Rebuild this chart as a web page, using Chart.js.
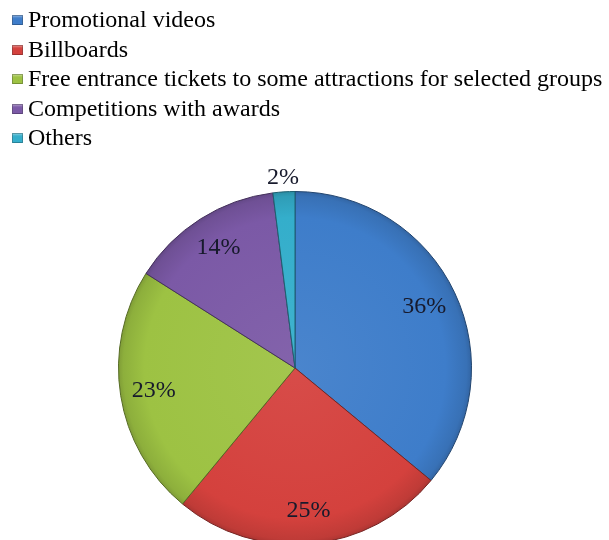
<!DOCTYPE html>
<html>
<head>
<meta charset="utf-8">
<script src="https://cdn.jsdelivr.net/npm/chart.js@4/dist/chart.umd.min.js"></script>
<style>
  body { margin: 0; background: #fff; overflow: hidden; }
  #wrap { position: relative; width: 609px; height: 540px; overflow: hidden; }
  #legend { position: absolute; left: 12px; top: 5px; z-index: 2;
    font-family: 'Liberation Serif', 'Times New Roman', serif; font-size: 24px; color: #000; }
  #legend div { height: 29.5px; line-height: 29.5px; white-space: nowrap; }
  #legend span { display: inline-block; width: 11px; height: 10px; margin-right: 5px;
    vertical-align: 2px; box-shadow: inset 0 0 0 1px rgba(0,0,0,0.25), inset 0 2px 2px rgba(255,255,255,0.35); }
  #pie { position: absolute; left: 0; top: 0; }
</style>
</head>
<body>
<div id="wrap">
  <div id="legend"></div>
  <canvas id="pie" width="609" height="560"></canvas>
</div>
<script>
var labels = ['Promotional videos', 'Billboards', 'Free entrance tickets to some attractions for selected groups', 'Competitions with awards', 'Others'];
var shares = [36, 25, 23, 14, 2];
var colors = ['#3e7dca', '#d4413d', '#9dc243', '#7b59a6', '#34aecb'];

// mix a hex colour towards white (amt > 0) or black (amt < 0)
function shade(hex, amt) {
    var n = parseInt(hex.slice(1), 16);
    var rgb = [(n >> 16) & 255, (n >> 8) & 255, n & 255].map(function (v) {
        return Math.round(amt > 0 ? v + (255 - v) * amt : v * (1 + amt));
    });
    return 'rgb(' + rgb.join(',') + ')';
}

// legend, one row per category
var legend = document.getElementById('legend');
labels.forEach(function (name, i) {
    var row = document.createElement('div');
    var box = document.createElement('span');
    box.style.background = colors[i];
    row.appendChild(box);
    row.appendChild(document.createTextNode(name));
    legend.appendChild(row);
});

// percent labels on the slices, small ones outside
var pctLabels = {
    id: 'pctLabels',
    afterDatasetsDraw: function (chart) {
        var ctx = chart.ctx;
        var meta = chart.getDatasetMeta(0);
        ctx.save();
        ctx.font = '24px "Liberation Serif", "Times New Roman", serif';
        ctx.fillStyle = '#171a2c';
        ctx.textAlign = 'center';
        ctx.textBaseline = 'middle';
        meta.data.forEach(function (arc, i) {
            var p = arc.getProps(['x', 'y', 'startAngle', 'endAngle', 'outerRadius'], true);
            var mid = (p.startAngle + p.endAngle) / 2;
            var f = shares[i] < 5 ? 1.08 : 0.81;
            ctx.fillText(shares[i] + '%', p.x + Math.cos(mid) * p.outerRadius * f, p.y + Math.sin(mid) * p.outerRadius * f);
        });
        ctx.restore();
    }
};

function sliceFill(c) {
    var base = colors[c.dataIndex];
    var area = c.chart.chartArea;
    if (!area) return base;
    var cx = (area.left + area.right) / 2, cy = (area.top + area.bottom) / 2;
    var r = Math.min(area.right - area.left, area.bottom - area.top) / 2;
    var g = c.chart.ctx.createRadialGradient(cx, cy, 0, cx, cy, r);
    g.addColorStop(0, shade(base, 0.06));
    g.addColorStop(0.85, base);
    g.addColorStop(0.97, shade(base, -0.1));
    g.addColorStop(1, shade(base, -0.2));
    return g;
}

var ctx = document.getElementById('pie').getContext('2d');
var myChart = new Chart(ctx, {
    type: 'pie',
    data: {
        labels: labels,
        datasets: [{
            data: shares,
            backgroundColor: sliceFill,
            borderColor: colors.map(function (c) { return shade(c, -0.45); }),
            borderWidth: 1
        }]
    },
    options: {
        responsive: false,
        animation: false,
        layout: { padding: { left: 118, right: 137, top: 191, bottom: 15 } },
        plugins: {
            legend: { display: false },
            tooltip: { enabled: false }
        }
    },
    plugins: [pctLabels]
});
</script>
</body>
</html>
